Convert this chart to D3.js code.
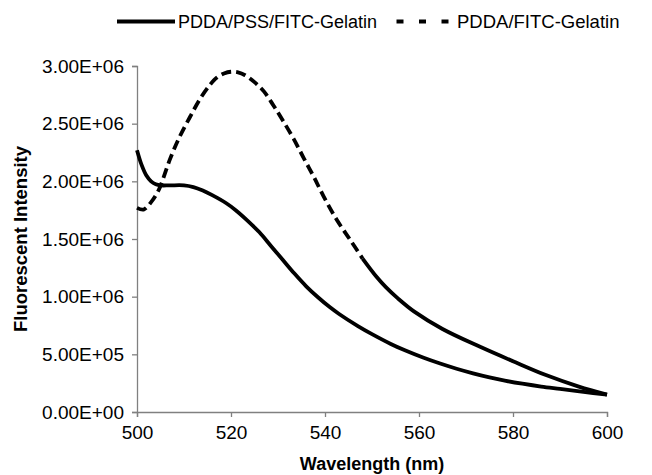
<!DOCTYPE html>
<html lang="en">
<head>
    <meta charset="UTF-8">
    <title>Fluorescent Intensity</title>
    <script src="https://d3js.org/d3.v7.min.js"></script>
    <style>
        body { margin: 0; background: #fff; }
        text { font-family: "Liberation Sans", Arial, sans-serif; fill: #000; }
    </style>
</head>
<body>
    <div id="chart"></div>
    <script>
        // Spectra (wavelength in nm, intensity in counts)
        const pssWavelength = [500, 501, 502, 503, 504, 505, 507, 510, 512, 514, 516, 519, 521, 523.5, 526, 528.5, 531, 533.5, 536, 538.5, 541, 543, 547, 550, 554, 557, 561, 564.5, 568, 571.5, 575, 578.5, 582, 586, 590, 595, 600];
        const pssIntensity = [2.27e6, 2.14e6, 2.05e6, 2.00e6, 1.975e6, 1.965e6, 1.965e6, 1.965e6, 1.95e6, 1.92e6, 1.88e6, 1.81e6, 1.75e6, 1.66e6, 1.56e6, 1.44e6, 1.32e6, 1.20e6, 1.09e6, 0.995e6, 0.91e6, 0.85e6, 0.745e6, 0.675e6, 0.59e6, 0.535e6, 0.47e6, 0.42e6, 0.375e6, 0.335e6, 0.30e6, 0.27e6, 0.245e6, 0.22e6, 0.20e6, 0.175e6, 0.15e6];

        const fitcWavelength = [500, 501.4, 503, 504.3, 505, 507, 509, 511.3, 513.5, 515.6, 517, 518.5, 520, 521.5, 523, 525, 527, 529, 531, 533.3, 535.5, 537.6, 539.7, 542.6, 545.4, 548, 551, 553, 555.5, 559, 565, 573, 580, 587, 594, 600];
        const fitcIntensity = [1.77e6, 1.755e6, 1.82e6, 1.90e6, 1.96e6, 2.19e6, 2.38e6, 2.56e6, 2.72e6, 2.84e6, 2.90e6, 2.935e6, 2.95e6, 2.945e6, 2.92e6, 2.86e6, 2.78e6, 2.66e6, 2.53e6, 2.37e6, 2.20e6, 2.04e6, 1.87e6, 1.66e6, 1.49e6, 1.33e6, 1.17e6, 1.08e6, 0.985e6, 0.87e6, 0.72e6, 0.565e6, 0.44e6, 0.32e6, 0.22e6, 0.15e6];

        const xTicks = [500, 520, 540, 560, 580, 600];
        const yTicks = [0, 0.5e6, 1.0e6, 1.5e6, 2.0e6, 2.5e6, 3.0e6];
        const seriesNames = ["PDDA/PSS/FITC-Gelatin", "PDDA/FITC-Gelatin"];

        const pss = pssWavelength.map((w, i) => ({w: w, v: pssIntensity[i]}));
        const fitc = fitcWavelength.map((w, i) => ({w: w, v: fitcIntensity[i]}));

        const svg = d3.select('#chart').append('svg')
            .attr('width', 652)
            .attr('height', 475);
        const margin = {top: 66, right: 45, bottom: 63, left: 137},
              width = 652 - margin.left - margin.right,
              height = 475 - margin.top - margin.bottom,
              g = svg.append('g').attr('transform', `translate(${margin.left},${margin.top})`);

        const x = d3.scaleLinear().domain([500, 600]).range([0, width]);
        const y = d3.scaleLinear().domain([0, 3e6]).range([height, 0]);

        // Axes (Excel style 3.00E+06 labels)
        const fmtE = d => {
            const s = d3.format(".2e")(d).toUpperCase();
            return s.replace(/E([+-])(\d)$/, "E$10$2");
        };
        const yAxis = g.append("g")
            .call(d3.axisLeft(y).tickValues(yTicks).tickFormat(fmtE).tickSize(5).tickPadding(8));
        const xAxis = g.append("g")
            .attr("transform", `translate(0,${height})`)
            .call(d3.axisBottom(x).tickValues(xTicks).tickFormat(d3.format("d")).tickSize(5).tickPadding(9));
        [xAxis, yAxis].forEach(a => {
            a.select(".domain").attr("stroke", "#808080").attr("stroke-width", 1.3);
            a.selectAll(".tick line").attr("stroke", "#808080").attr("stroke-width", 1.3);
            a.selectAll("text").style("font-size", "19px").attr("fill", "#000");
        });

        // Axis titles
        svg.append("text")
            .attr("x", margin.left + width / 2)
            .attr("y", 470)
            .attr("text-anchor", "middle")
            .style("font-size", "18px")
            .style("font-weight", "bold")
            .text("Wavelength (nm)");
        svg.append("text")
            .attr("transform", `translate(27,${margin.top + height / 2}) rotate(-90)`)
            .attr("text-anchor", "middle")
            .style("font-size", "18.5px")
            .style("font-weight", "bold")
            .text("Fluorescent Intensity");

        // Lines
        const line = d3.line()
            .x(d => x(d.w))
            .y(d => y(d.v))
            .curve(d3.curveCatmullRom.alpha(0.5));

        g.append("path")
            .datum(pss)
            .attr("fill", "none")
            .attr("stroke", "#000")
            .attr("stroke-width", 3.8)
            .attr("d", line);

        // dashed series: dashes only show on the steep part, the tail renders solid
        const split = 548;
        g.append("path")
            .datum(fitc.filter(d => d.w <= split))
            .attr("fill", "none")
            .attr("stroke", "#000")
            .attr("stroke-width", 3.8)
            .attr("stroke-dasharray", "10,5")
            .attr("d", line);
        g.append("path")
            .datum(fitc.filter(d => d.w >= split))
            .attr("fill", "none")
            .attr("stroke", "#000")
            .attr("stroke-width", 3.8)
            .attr("d", line);

        // Legend
        const legend = svg.append("g").attr("transform", "translate(0,21.5)");
        legend.append("line")
            .attr("x1", 117).attr("x2", 175)
            .attr("y1", 0).attr("y2", 0)
            .attr("stroke", "#000").attr("stroke-width", 3.8);
        legend.append("text")
            .attr("x", 178).attr("y", 6.5)
            .style("font-size", "18px")
            .text(seriesNames[0]);
        legend.append("line")
            .attr("x1", 396.5).attr("x2", 449)
            .attr("y1", 0).attr("y2", 0)
            .attr("stroke", "#000").attr("stroke-width", 3.8)
            .attr("stroke-dasharray", "7,15.5");
        legend.append("text")
            .attr("x", 457).attr("y", 6.5)
            .style("font-size", "18.5px")
            .text(seriesNames[1]);
    </script>
</body>
</html>
